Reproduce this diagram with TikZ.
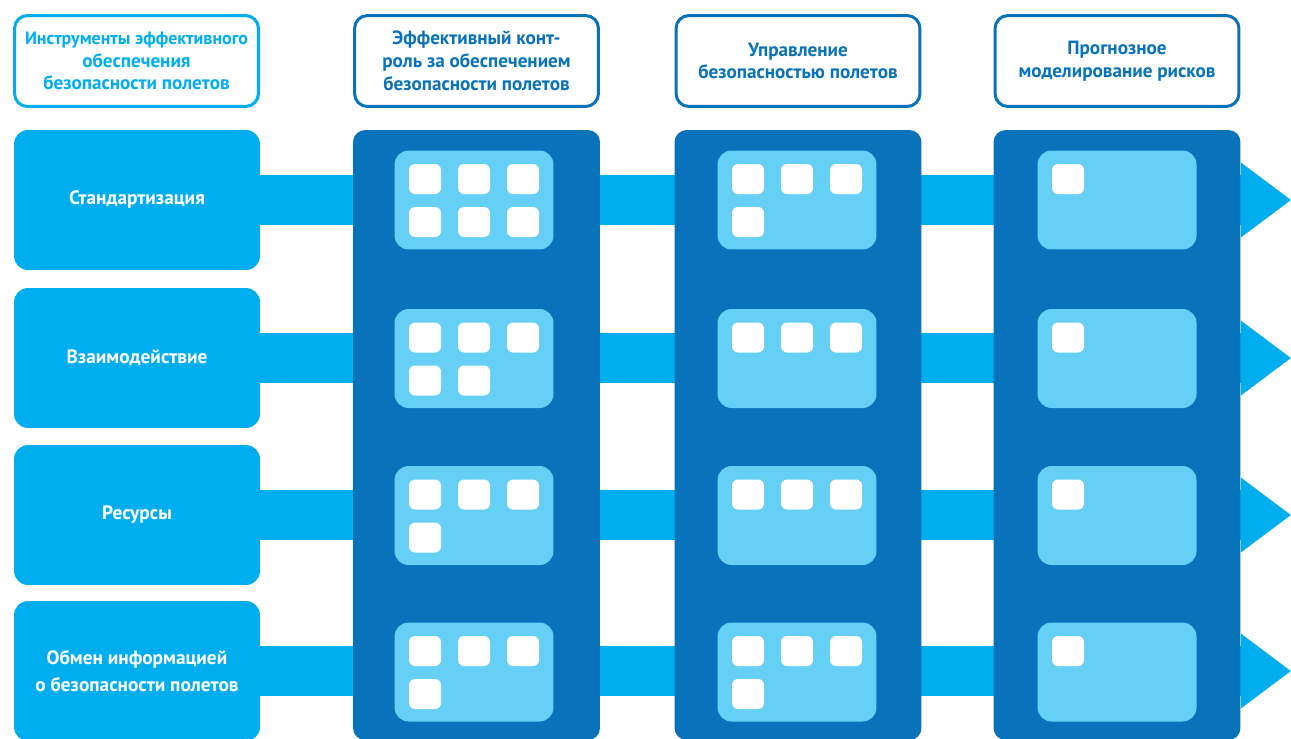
\documentclass[tikz,border=0pt]{standalone}
\usepackage{fontspec}
\setmainfont{PT Sans}
\usetikzlibrary{backgrounds}
\definecolor{skyblue}{HTML}{00AEEF}
\definecolor{deepblue}{HTML}{0872BA}
\definecolor{paleblue}{HTML}{66CFF6}
\begin{document}
\begin{tikzpicture}[x=0.02cm,y=-0.02cm,
  head/.style={draw=#1,text=#1,fill=white,line width=0.06cm,rounded corners=0.26cm,
    minimum width=4.88cm,minimum height=1.82cm,inner sep=0pt,align=center,
    font=\bfseries\fontsize{10.9}{13}\selectfont},
  rowbox/.style={fill=skyblue,text=white,rounded corners=0.28cm,minimum width=4.92cm,
    minimum height=2.8cm,inner sep=0pt,align=center,font=\bfseries\fontsize{11}{15.5}\selectfont},
  colbox/.style={fill=deepblue,rounded corners=0.24cm,minimum width=4.94cm,minimum height=12.2cm,inner sep=0pt},
  panel/.style={fill=paleblue,rounded corners=0.28cm,minimum width=3.18cm,minimum height=1.98cm,inner sep=0pt},
  sq/.style={fill=white,rounded corners=0.12cm,minimum width=0.64cm,minimum height=0.6cm,inner sep=0pt},
  band/.style={draw=skyblue,line width=1cm}]
\clip (0,0) rectangle (1291,738);
% headers
\node[head=skyblue] (h1) at (136.5,61) {{\fontsize{10.2}{13}\selectfont Инструменты эффективного}\\обеспечения\\безопасности полетов};
\node[head=deepblue] (h2) at (476.5,61) {Эффективный конт-\\роль за обеспечением\\безопасности полетов};
\node[head=deepblue] (h3) at (798,61) {Управление\\безопасностью полетов};
\node[head=deepblue] (h4) at (1117,61) {Прогнозное\\моделирование рисков};
% left boxes
\node[rowbox] (r1) at (137,200) {Стандартизация};
\node[rowbox] (r2) at (137,358) {Взаимодействие};
\node[rowbox] (r3) at (137,515) {Ресурсы};
\node[rowbox] (r4) at (137,671) {Обмен информацией\\о безопасности полетов};
% columns
\node[colbox] (k1) at (476.5,435) {};
\node[colbox] (k2) at (798,435) {};
\node[colbox] (k3) at (1117,435) {};
\foreach \c/\x in {a/474,b/797,c/1117}
  \foreach \r/\y in {1/200,2/358.5,3/515.5,4/672}
    \node[panel] (\c\r) at (\x,\y) {};
% small squares
\foreach \p/\n in {a1/6,a2/5,a3/4,a4/4,b1/4,b2/3,b3/3,b4/4,c1/1,c2/1,c3/1,c4/1}
  \foreach \i in {1,...,\n}{
    \pgfmathsetmacro\dx{-49+49*mod(\i-1,3)}
    \pgfmathsetmacro\dy{-21+43*int((\i-1)/3)}
    \node[sq] at ([shift={(\dx,\dy)}]\p.center) {};
  }
% bands with arrow heads
\begin{scope}[on background layer]
\foreach \r in {1,2,3,4}{
  \draw[band] (r\r.east) -- (r\r.east -| k3.east) coordinate (t\r);
  \fill[skyblue] (t\r) ++(0,-37.5) -- ++(50,37.5) -- ++(-50,37.5) -- cycle;
}
\end{scope}
\end{tikzpicture}
\end{document}
